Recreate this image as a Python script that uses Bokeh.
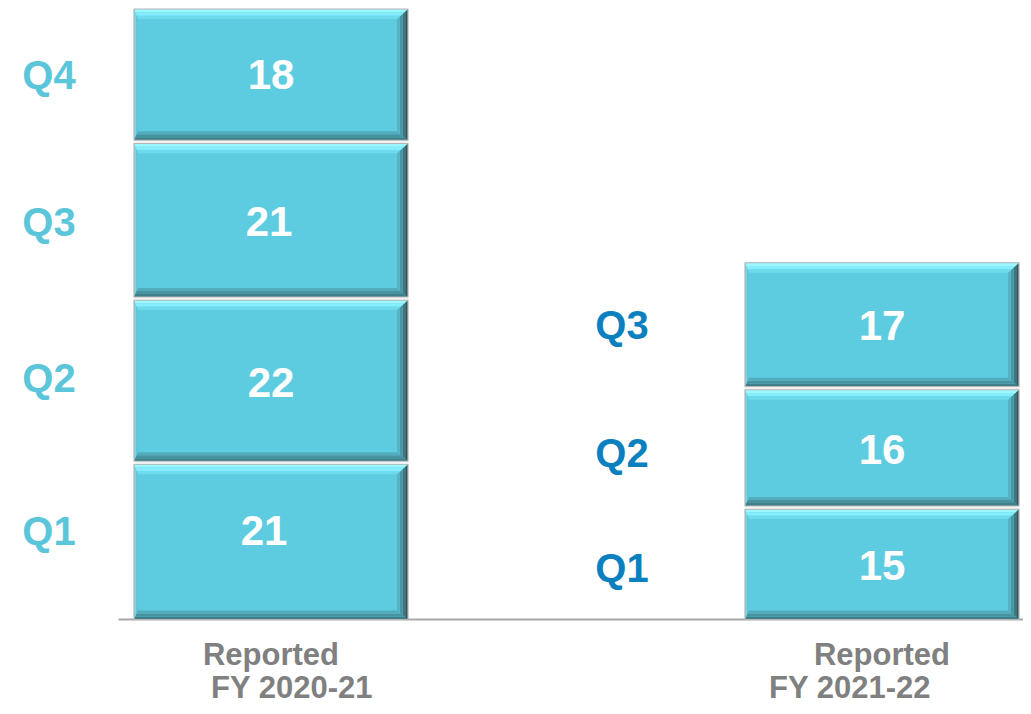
import numpy as np
from bokeh.plotting import figure
from bokeh.models import Range1d, ColumnDataSource
from bokeh.embed import file_html
from bokeh.resources import INLINE
from bokeh.core.properties import value

# ---------------- data ----------------
years = ["FY 2020-21", "FY 2021-22"]
quarters_2021 = ["Q1", "Q2", "Q3", "Q4"]
values_2021 = [21, 22, 21, 18]
quarters_2122 = ["Q1", "Q2", "Q3"]
values_2122 = [15, 16, 17]
cat_line1 = ["Reported", "Reported"]

# ---------------- layout ----------------
W, H = 1023, 706
PX_X = 1.0 / 611.0            # data units per pixel (x)
BASE_PX = 619.0               # baseline distance from top of canvas (px)
PPU = (BASE_PX - 7.0) / 82.0  # px per value unit (y)
PX_Y = 1.0 / PPU
YMAX = BASE_PX / PPU
YMIN = -(H - BASE_PX) / PPU
XMIN = -270.5 * PX_X
XMAX = XMIN + W * PX_X
BAR_W = 274 * PX_X

p = figure(width=W, height=H, x_range=Range1d(XMIN, XMAX), y_range=Range1d(YMIN, YMAX),
           output_backend="svg", toolbar_location=None, min_border=0)
p.min_border_left = p.min_border_right = p.min_border_top = p.min_border_bottom = 0
p.axis.visible = False
p.grid.visible = False
p.outline_line_color = None
p.background_fill_color = "white"
p.border_fill_color = "white"

# baseline
p.segment(x0=[XMIN + 118 * PX_X], x1=[XMAX], y0=[0], y1=[0], line_color="#A8A8A8", line_width=2)

body = "#5DCCE0"
BODY_DARK_OUTLINE = "#B5B5B5"

# bevel thickness (px) per side
TL, TR, TT, TB = 4.0, 11.0, 10.0, 9.0
top_cols = ["#9CF7FF", "#85EDFB", "#6EDBEC"]
right_cols = ["#34575D", "#3F7680", "#4B96A4", "#56B3C4"]
bottom_cols = ["#3E7F8A", "#4993A1", "#53ACBC"]
left_cols = ["#7FD3E2", "#63C6D8"]

all_xs, all_ys, all_c = [], [], []


def rect_at(f, x0, x1, y0, y1):
    return (x0 + f * TL * PX_X, x1 - f * TR * PX_X, y0 + f * TB * PX_Y, y1 - f * TT * PX_Y)


def add_bevel(x0, x1, y0, y1):
    for side, cols in (("left", left_cols), ("bottom", bottom_cols), ("right", right_cols), ("top", top_cols)):
        n = len(cols)
        for k, c in enumerate(cols):
            L0, R0, B0, T0 = rect_at(k / n, x0, x1, y0, y1)
            L1, R1, B1, T1 = rect_at((k + 1) / n, x0, x1, y0, y1)
            if side == "top":
                xs = [L0, R0, R1, L1]; ys = [T0, T0, T1, T1]
            elif side == "bottom":
                xs = [L0, R0, R1, L1]; ys = [B0, B0, B1, B1]
            elif side == "left":
                xs = [L0, L0, L1, L1]; ys = [B0, T0, T1, B1]
            else:
                xs = [R0, R0, R1, R1]; ys = [B0, T0, T1, B1]
            all_xs.append(xs); all_ys.append(ys); all_c.append(c)


bars = [(0, values_2021, quarters_2021), (1, values_2122, quarters_2122)]
qx, qy, qt = [], [], []
vx, vy, vt = [], [], []
quad_l, quad_r, quad_b, quad_t = [], [], [], []
GAP = 1.5 * PX_Y

for xi, vals, qs in bars:
    bottoms = np.concatenate([[0], np.cumsum(vals)[:-1]])
    tops = np.cumsum(vals)
    for j, (b0, t0) in enumerate(zip(bottoms, tops)):
        y0 = b0 + (GAP if j > 0 else 0)
        y1 = t0 - GAP
        x0 = xi - BAR_W / 2
        x1 = xi + BAR_W / 2
        quad_l.append(x0); quad_r.append(x1); quad_b.append(y0); quad_t.append(y1)
        add_bevel(x0, x1, y0, y1)
        mid = (b0 + t0) / 2
        vx.append(xi); vy.append(mid); vt.append(str(vals[j]))
        qx.append(xi); qy.append(mid); qt.append(qs[j])

# small label offsets (px) as seen in the reference
vxo = [-7, 0, -2, 0, 0, 0, 0]
vyo = [-11, 2, 1, 0, 2, 2, 1]
qxo = [-222, -222, -222, -222, -260, -260, -260]
qyo = [-10, -3, 2, 0, 4, 5, 0]
qcol = ["#5BC6DA"] * 4 + ["#0B80BE"] * 3

p.quad(left=quad_l, right=quad_r, bottom=quad_b, top=quad_t, fill_color=body, line_color=None)
p.patches(xs=all_xs, ys=all_ys, fill_color=all_c, line_color=None)
p.quad(left=quad_l, right=quad_r, bottom=quad_b, top=quad_t, fill_color=None,
       line_color=BODY_DARK_OUTLINE, line_width=1.2)

# segment separators (light line)
sep_x0, sep_x1, sep_y = [], [], []
for xi, vals, qs in bars:
    for t0 in np.cumsum(vals)[:-1]:
        sep_x0.append(xi - BAR_W / 2); sep_x1.append(xi + BAR_W / 2); sep_y.append(t0)
p.segment(x0=sep_x0, x1=sep_x1, y0=sep_y, y1=sep_y, line_color="#F2F2F2", line_width=2)

vsrc = ColumnDataSource(dict(x=vx, y=vy, t=vt, xo=vxo, yo=vyo))
p.text(x="x", y="y", text="t", x_offset="xo", y_offset="yo", source=vsrc,
       text_font=value("Liberation Sans"), text_font_style="bold", text_font_size="42px",
       text_color="white", text_align="center", text_baseline="middle")

qsrc = ColumnDataSource(dict(x=qx, y=qy, t=qt, xo=qxo, yo=qyo, c=qcol))
p.text(x="x", y="y", text="t", x_offset="xo", y_offset="yo", text_color="c", source=qsrc,
       text_font=value("Liberation Sans"), text_font_style="bold", text_font_size="40px",
       text_align="center", text_baseline="middle")

# category labels
csrc = ColumnDataSource(dict(x=[0, 1, 0, 1], y=[0, 0, 0, 0],
                             t=cat_line1 + years,
                             xo=[0, 0, 21, -32], yo=[35, 35, 68, 68]))
p.text(x="x", y="y", text="t", x_offset="xo", y_offset="yo", source=csrc,
       text_font=value("Liberation Sans"), text_font_style="bold", text_font_size="31px",
       text_line_height=1.0,
       text_color="#808080", text_align="center", text_baseline="middle")

open("out.html", "w").write(file_html(p, INLINE))
